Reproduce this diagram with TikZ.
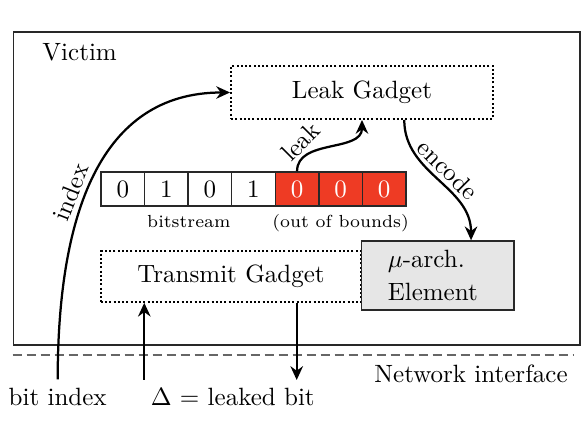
\documentclass[tikz,border=0pt]{standalone}
\usepackage{tikz}
\usetikzlibrary{arrows.meta, positioning}
\definecolor{oob}{RGB}{238, 59, 36}
\definecolor{uarchgray}{RGB}{230, 230, 230}
\definecolor{dark}{RGB}{40, 40, 40}

\begin{document}
\begin{tikzpicture}[
    x=0.4pt, y=0.4pt,
    frame/.style={draw=dark, line width=0.6pt, inner sep=0pt},
    gadget/.style={draw=black, line width=0.8pt, dash pattern=on 0.8pt off 0.9pt,
        minimum width=104.4pt, minimum height=21pt, inner sep=0pt},
    cell/.style={draw=dark, line width=0.6pt, minimum width=17.43pt,
        minimum height=13.6pt, inner sep=0pt},
    flow/.style={-{Stealth[length=5.5pt, width=5pt, inset=1.8pt]}, line width=0.9pt},
    separator/.style={draw=black!60, line width=0.8pt, dash pattern=on 3.6pt off 2pt},
    note/.style={font=\scriptsize, inner sep=0pt, text height=5pt, text depth=1.5pt},
    edge label/.style={inner sep=2pt}
]
    \useasboundingbox (0,0) rectangle (587,-431);

    \node[frame, minimum width=226.7pt, minimum height=125.2pt] (victim) at (296.7,-188.5) {};
    \node[anchor=west, inner sep=0pt] (victimlabel) at (42,-52) {Victim};

    \node[gadget, minimum width=104.8pt, minimum height=21.2pt] (leak) at (362,-92.5) {Leak Gadget};
    \node[gadget, minimum width=104pt, minimum height=20.4pt] (transmit) at (231,-276.3) {Transmit Gadget};
    \node[frame, fill=uarchgray, minimum width=61pt, minimum height=27.6pt, text width=40pt,
        align=left, font=\fontsize{10}{13.3}\selectfont] (uarch) at (437.8,-275.5) {$\mu$-arch.\\Element};

    % bitstream cells
    \foreach \bit [count=\i] in {0,1,0,1}
        \node[cell] (c\i) at ({79.2+43.57*\i},-189) {\bit};
    \foreach \bit [count=\i from 5] in {0,0,0}
        \node[cell, fill=oob, text=white] (c\i) at ({79.2+43.57*\i},-189) {\bit};
    \node[note, below=3.3pt of c2.south east] (bitstream) {bitstream};
    \node[note, below=3.3pt of c6.south] (outofbounds) {(out of bounds)};

    \draw[separator] ([yshift=-3.6pt]victim.south west) -- ([xshift=-2.8pt, yshift=-3.6pt]victim.south east);
    \node[anchor=base] (netif) at (471,-383) {Network interface};

    \node[anchor=base] (bitidx) at (57.7,-405.5) {bit index};
    \node[anchor=base west] (delta) at (142,-405.5) {$\Delta$ = leaked bit};
    \coordinate (din) at (144.3,-380);
    \coordinate (dout) at (296.7,-380);

    \draw[flow] (bitidx.north) to[out=90, in=180, out looseness=1.25]
        node[edge label, sloped, above, pos=0.43] {index} (leak.west);
    \draw[flow] (c5.north) to[out=90, in=-90]
        node[edge label, pos=0.3, rotate=45, anchor=south] {leak} (leak.south);
    \draw[flow] ([xshift=16.9pt]leak.south) to[out=-90, in=90]
        node[edge label, sloped, above] {encode} ([xshift=13.3pt]uarch.north);
    \draw[flow] (din) -- (din |- transmit.south);
    \draw[flow] (transmit.south -| dout) -- (dout);
\end{tikzpicture}
\end{document}
